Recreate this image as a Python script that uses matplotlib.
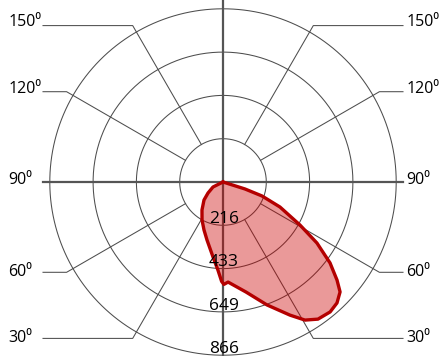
import numpy as np
import matplotlib
matplotlib.use("Agg")
import matplotlib.pyplot as plt

# Luminous intensity distribution (cd), angle measured from nadir, + to the right
angles_deg = [80, 72.4, 70.3, 66.3, 60.8, 57.0, 52.9, 49.3, 46.8, 43.3, 39.5,
              34.7, 30.7, 26.7, 19.7, 11.8, 2.9, 0.5, -0.8, -3.3, -7.6, -15.4,
              -21.6, -28.9, -36.9, -46.5, -53.7, -63.4, -80]
intensity_cd = [0, 115, 207, 311, 441, 560, 671, 752, 803, 831, 842,
                834, 803, 745, 653, 562, 501, 512, 497, 441, 378, 301,
                258, 217, 175, 131, 93, 56, 0]

ring_values = [216.5, 433, 649.5, 866]
ring_labels = ["216", "433", "649", "866"]
spoke_angles = [30, 60, 120, 150]
side_labels = ["30", "60", "90", "120", "150"]

SPOKE_END = 903      # outer end of the radial lines
LEADER_X = 900       # horizontal leaders run out to here
GRID_C = "#4d4d4d"
FONT = ["Open Sans", "DejaVu Sans"]

fig = plt.figure(figsize=(4.41, 3.56), dpi=100)
ax = fig.add_axes([0, 0, 1, 1])
ax.set_xlim(-1115, 1090)
ax.set_ylim(-870, 910)
ax.axis("off")


def to_xy(theta_deg, r):
    t = np.radians(theta_deg)
    return np.asarray(r) * np.sin(t), -np.asarray(r) * np.cos(t)


# concentric intensity rings
phi = np.linspace(0, 2 * np.pi, 400)
for rv in ring_values:
    ax.plot(rv * np.cos(phi), rv * np.sin(phi), color=GRID_C, lw=0.75, zorder=1)

# radial lines with horizontal leaders on both sides
for a in spoke_angles:
    for side in (1, -1):
        x0, y0 = to_xy(side * a, ring_values[0])
        x1, y1 = to_xy(side * a, SPOKE_END)
        ax.plot([x0, x1, side * LEADER_X], [y0, y1, y1],
                color=GRID_C, lw=0.75, zorder=1)

# main horizontal (90°) and vertical axes
ax.plot([-LEADER_X, LEADER_X], [0, 0], color="#555555", lw=1.6, zorder=1)
ax.plot([0, 0], [-870, 910], color="#555555", lw=1.6, zorder=1)

# angle labels at both edges
label_angles = [30, 60, 90, 120, 150]
label_dy = [0, 0, 12, 12, 20]
for a, lab, dy in zip(label_angles, side_labels, label_dy):
    _, yl = to_xy(a, SPOKE_END)
    if a == 90:
        yl = 0
    txt = lab + "\u2070"
    kw = dict(fontsize=11.5, va="center", color="black", family=FONT, zorder=5)
    ax.text(-1072, yl + dy, txt, ha="left", **kw)
    ax.text(916, yl + dy, txt, ha="left", **kw)

# intensity curve
cx, cy = to_xy(np.array(angles_deg), np.array(intensity_cd))
ax.fill(cx, cy, facecolor="#cc0000", alpha=0.4, edgecolor="none", zorder=2)
ax.plot(np.append(cx, cx[0]), np.append(cy, cy[0]), color="#b40000",
        lw=2.4, solid_joinstyle="round", zorder=3)

# ring value labels along the vertical axis
for rv, lab in zip(ring_values, ring_labels):
    ax.text(5, -rv + 12, lab, ha="center", va="baseline", fontsize=12.5,
            family=FONT, color="black", zorder=6)

fig.savefig("out.png", dpi=100)
